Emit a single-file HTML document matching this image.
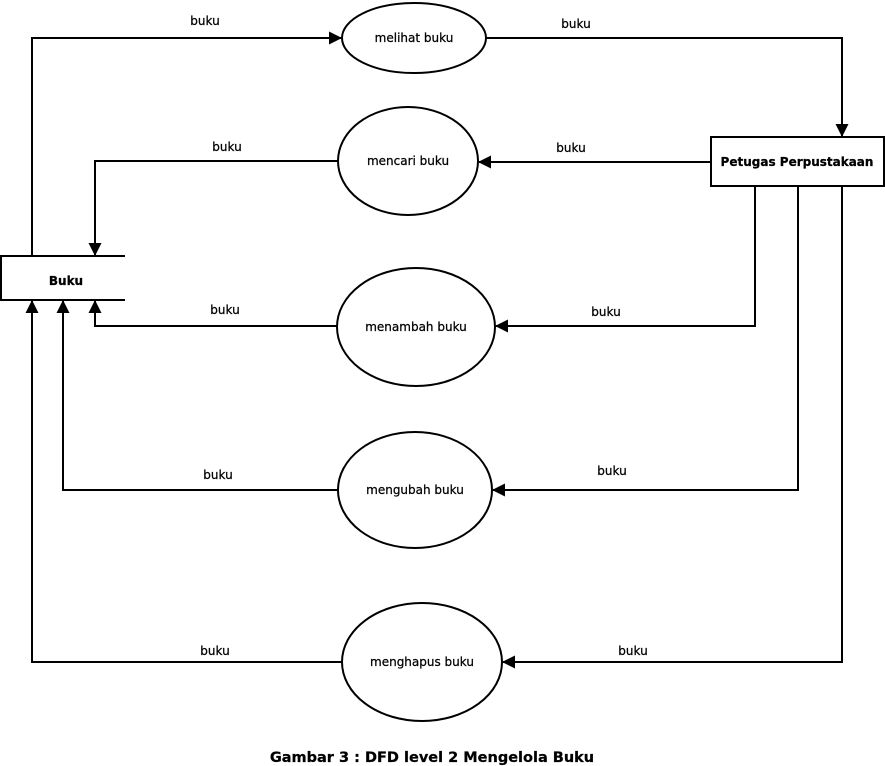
<!DOCTYPE html>
<html><head><meta charset="utf-8"><style>
html,body{margin:0;padding:0;background:#fff;}
svg{display:block;}
text{font-family:"DejaVu Sans","Liberation Sans",sans-serif;font-size:12px;fill:#000;}
</style></head><body>
<svg width="885" height="766" viewBox="0 0 885 766" xmlns="http://www.w3.org/2000/svg">
<defs><marker id="a" markerWidth="13" markerHeight="13" refX="12" refY="6.5" orient="auto" markerUnits="userSpaceOnUse"><path d="M0,0 L13,6.5 L0,13 z" fill="#000"/></marker></defs>
<g fill="none" stroke="#000" stroke-width="2">
<ellipse cx="414" cy="38" rx="72" ry="35"/>
<ellipse cx="408" cy="161" rx="70" ry="54"/>
<ellipse cx="416" cy="327" rx="79" ry="59"/>
<ellipse cx="415" cy="490" rx="77" ry="58"/>
<ellipse cx="422" cy="662" rx="80" ry="59"/>
<rect x="711" y="137" width="173" height="49"/>
<path d="M125,256 H1 V300 H125"/>
<path d="M32,256 V38 H341" marker-end="url(#a)"/>
<path d="M486,38 H842 V136" marker-end="url(#a)"/>
<path d="M711,162 H479" marker-end="url(#a)"/>
<path d="M338,161 H95 V255" marker-end="url(#a)"/>
<path d="M755,186 V326 H496" marker-end="url(#a)"/>
<path d="M337,326 H95 V301" marker-end="url(#a)"/>
<path d="M798,186 V490 H493" marker-end="url(#a)"/>
<path d="M338,490 H63 V301" marker-end="url(#a)"/>
<path d="M842,186 V662 H503" marker-end="url(#a)"/>
<path d="M342,662 H32 V301" marker-end="url(#a)"/>
</g>
<g text-anchor="middle" stroke="#000" stroke-width="0.25">
<text x="414" y="42">melihat buku</text>
<text x="408" y="165">mencari buku</text>
<text x="416" y="331">menambah buku</text>
<text x="415" y="494">mengubah buku</text>
<text x="422" y="666">menghapus buku</text>
<text x="797" y="166" font-weight="bold">Petugas Perpustakaan</text>
<text x="66" y="285" font-weight="bold">Buku</text>
<text x="205" y="25">buku</text>
<text x="576" y="28">buku</text>
<text x="571" y="152">buku</text>
<text x="227" y="151">buku</text>
<text x="606" y="316">buku</text>
<text x="225" y="314">buku</text>
<text x="612" y="475">buku</text>
<text x="218" y="479">buku</text>
<text x="633" y="655">buku</text>
<text x="215" y="655">buku</text>
<text x="432" y="762" font-weight="bold" style="font-size:14.5px">Gambar 3 : DFD level 2 Mengelola Buku</text>
</g>
</svg>
</body></html>
